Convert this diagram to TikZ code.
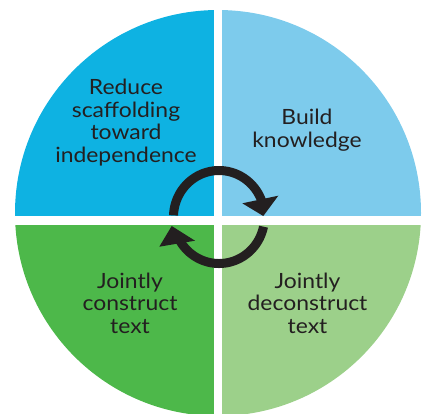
\documentclass[tikz,border=0pt]{standalone}
\usepackage{fontspec}
\setmainfont[FakeStretch=1.09]{Lato}
\definecolor{cTL}{RGB}{14,178,226}
\definecolor{cTR}{RGB}{125,203,236}
\definecolor{cBL}{RGB}{77,184,74}
\definecolor{cBR}{RGB}{156,208,138}
\definecolor{ink}{RGB}{35,31,32}
\tikzset{
  label/.style={align=center, inner sep=0pt, text=ink, font=\fontsize{21}{22.5}\selectfont},
  ringline/.style={draw=ink, line width=9pt},
  ringhead/.style={fill=ink}
}
\begin{document}
\begin{tikzpicture}[x=1pt,y=-1pt]
\useasboundingbox (0,0) rectangle (422,413);
\begin{scope}
  \clip (218,213) circle (203pt);
  \fill[cTL] (0,0) rectangle (214,216);
  \fill[cTR] (222,0) rectangle (440,216);
  \fill[cBL] (0,225) rectangle (214,440);
  \fill[cBR] (222,225) rectangle (440,440);
\end{scope}
\node[label] (reduce) at (126,122.5) {Reduce\\scaffolding\\toward\\independence};
\node[label] (build) at (307,130) {Build\\knowledge};
\node[label] (construct) at (130,302.9) {Jointly\\construct\\text};
\node[label] (deconstruct) at (307.5,302.9) {Jointly\\deconstruct\\text};
% cycle arrows
\draw[ringline] plot[domain=178:19, samples=80] ({219+45.5*cos(\x)},{217-46.5*sin(\x)});
\fill[ringhead] (242.3,203.3) -- (278.3,195.7) -- (263.3,216) -- cycle;
\draw[ringline] plot[domain=-12:-149, samples=80] ({219+45.5*cos(\x)},{217-46.5*sin(\x)});
\fill[ringhead] (195,240.7) -- (159.3,246.7) -- (171.7,226) -- cycle;
\end{tikzpicture}
\end{document}
